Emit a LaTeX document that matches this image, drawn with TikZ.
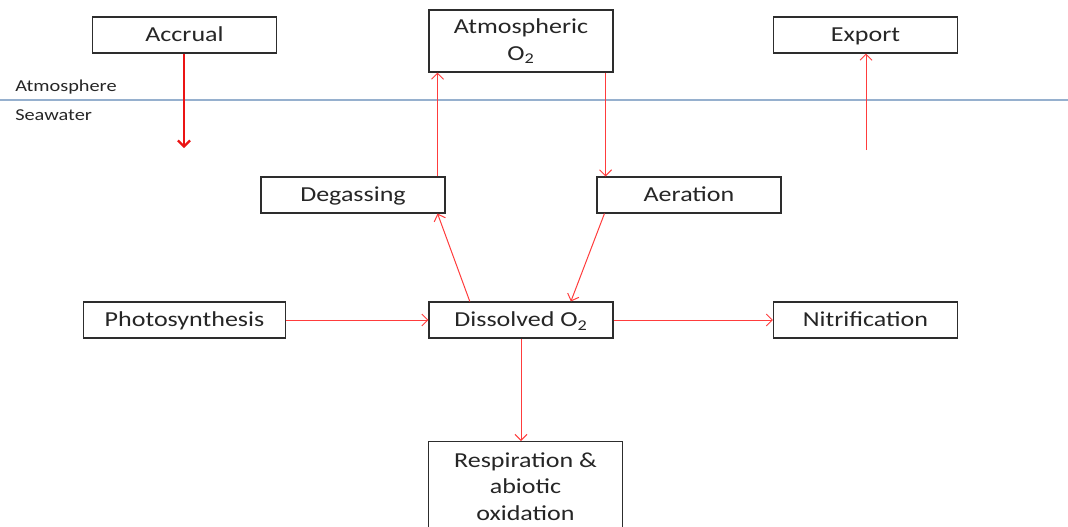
\documentclass[tikz,border=0pt]{standalone}
\usepackage{fontspec}
\setmainfont{Carlito}[FakeStretch=1.22]
\usetikzlibrary{arrows.meta, positioning, calc}
\definecolor{fluxred}{RGB}{255, 60, 60}
\definecolor{accred}{RGB}{235, 20, 20}
\definecolor{boxgrey}{RGB}{45, 45, 45}
\definecolor{surfblue}{RGB}{150, 176, 206}
\tikzset{
  store/.style={
    draw=boxgrey,
    line width=0.8pt,
    fill=white,
    minimum width=138pt,
    minimum height=27pt,
    inner sep=2pt,
    align=center,
    text=black!85,
    font=\fontsize{16}{20}\selectfont
  },
  pool/.style={
    store,
    text height=12pt,
    text depth=2pt
  },
  layer/.style={
    anchor=west,
    inner sep=0pt,
    text=black!85,
    font=\fontsize{12.5}{14}\selectfont
  },
  flux/.style={
    -{Straight Barb[length=4.5pt, width=9pt]},
    draw=fluxred,
    line width=0.75pt
  },
  input/.style={
    -{Straight Barb[length=4.5pt, width=9pt]},
    draw=accred,
    line width=1.6pt
  }
}

\begin{document}
\begin{tikzpicture}[x=0.75pt, y=-0.75pt]
  \useasboundingbox (0,0) rectangle (1068,526);
  \clip (0,0) rectangle (1068,526);

  % air--sea boundary
  \draw[surfblue, line width=1pt] (0,100) -- (1068,100);
  \node[layer] (air) at (15,87) {Atmosphere};
  \node[layer] (sea) at (15,115) {Seawater};

  % top row
  \node[pool] (accrual) at (184.5,35) {Accrual};
  \node[store, minimum height=46.5pt] (atmos) at (521,41) {Atmospheric\\O\textsubscript{2}};
  \node[pool] (export) at (865.5,35) {Export};

  % exchange
  \node[pool] (degas) at (353,195) {Degassing};
  \node[pool] (aer) at (689,195) {Aeration};

  % dissolved pool
  \node[pool, minimum width=151pt] (photo) at (184.5,320) {Photosynthesis};
  \node[pool] (diss) at (521,320) {Dissolved O\textsubscript{2}};
  \node[pool] (nitri) at (865.5,320) {Nitrification};
  \node[store, minimum width=145pt, minimum height=67.5pt, anchor=north] (resp) at (525.5,441)
    {Respiration \&\\abiotic\\oxidation};

  \coordinate (accin) at (184,148);
  \coordinate (expout) at (866,150);

  \draw[input] (accrual.south -| accin) -- (accin);
  \draw[flux] (expout) -- (expout |- export.south);
  \draw[flux] ([xshift=-6pt]degas.north east) -- ([xshift=-6pt]degas.north east |- atmos.south);
  \draw[flux] ([xshift=-6pt]atmos.south east) -- ([xshift=-6pt]atmos.south east |- aer.north);
  \draw[flux] ([xshift=31pt]diss.north west) -- ([xshift=-6pt]degas.south east);
  \draw[flux] ([xshift=6pt]aer.south west) -- ([xshift=-32pt]diss.north east);
  \draw[flux] (photo.east) -- (diss.west);
  \draw[flux] (diss.east) -- (nitri.west);
  \draw[flux] (diss.south) -- (diss.south |- resp.north);
\end{tikzpicture}
\end{document}
